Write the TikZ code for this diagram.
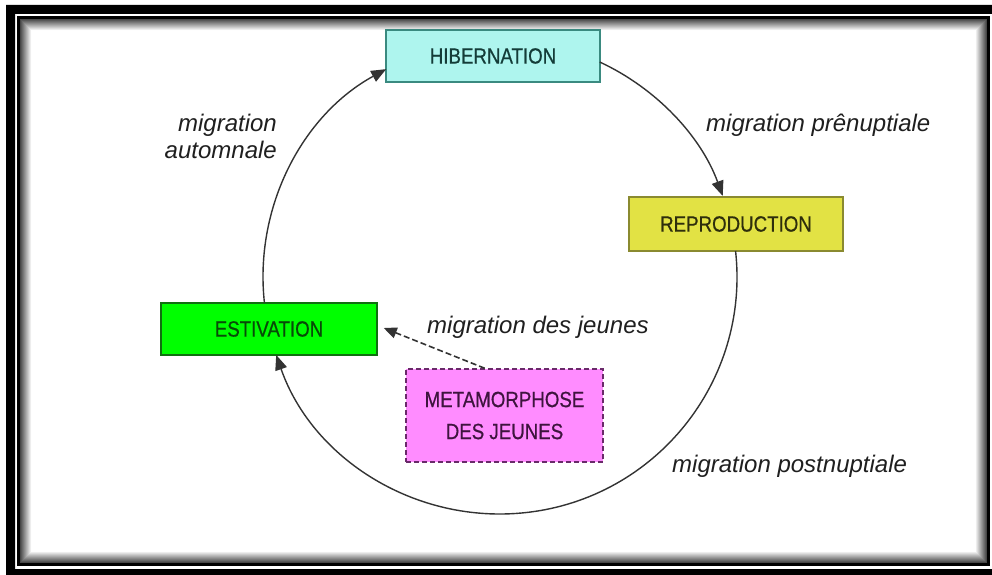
\documentclass[tikz,border=0pt]{standalone}
\usepackage{fontspec}
\setmainfont{Liberation Sans}
\newfontfamily\boxfont[FakeStretch=0.85,FakeBold=0.6]{Liberation Sans}
\usetikzlibrary{arrows.meta,calc}
\definecolor{hibfill}{HTML}{AEF5EE}
\definecolor{hibdraw}{HTML}{3A8A80}
\definecolor{hibtext}{HTML}{143C38}
\definecolor{repfill}{HTML}{E2E244}
\definecolor{repdraw}{HTML}{8A8A30}
\definecolor{reptext}{HTML}{2E2E0C}
\definecolor{estfill}{HTML}{00FF00}
\definecolor{estdraw}{HTML}{107010}
\definecolor{esttext}{HTML}{084A08}
\definecolor{metfill}{HTML}{FF8CFF}
\definecolor{metdraw}{HTML}{6A2A6A}
\definecolor{mettext}{HTML}{3E143E}
\tikzset{
  stagebox/.style={rectangle, line width=1.5pt, inner sep=0pt, align=center,
    font=\boxfont\fontsize{22}{32}\selectfont},
  lbl/.style={inner sep=0pt, font=\itshape\fontsize{24}{27}\selectfont, text=black!88},
  cyc/.style={line width=1.4pt, black!80, -{Triangle[length=15pt,width=12pt]}},
  dasharrow/.style={line width=1.6pt, black!80, dash pattern=on 6pt off 3pt,
    -{Triangle[length=13pt,width=11pt]}}
}
\begin{document}
\begin{tikzpicture}[x=1pt,y=1pt]
\useasboundingbox (0,0) rectangle (992,574);
\fill[white] (0,0) rectangle (992,574);
% outer thick frame
\fill[black, even odd rule] (6,569) rectangle (1010,-20) (15,560) rectangle (992,5);
% thin inner frame
\draw[black, line width=3pt] (18.5,556.5) rectangle (988.5,9.5);
% inner shadow
\foreach \i in {0,...,11}{
  \pgfmathsetmacro{\g}{max(0,72-6.5*\i)}
  \draw[black!\g, line width=1.05pt] (20.5+\i,554.5-\i) rectangle (986.5-\i,11.5+\i);
}
% nodes
\node[stagebox, fill=hibfill, draw=hibdraw, text=hibtext, minimum width=214pt, minimum height=52pt]
  (hib) at (493,518) {HIBERNATION};
\node[stagebox, fill=repfill, draw=repdraw, text=reptext, minimum width=214pt, minimum height=54pt]
  (rep) at (736,350) {REPRODUCTION};
\node[stagebox, fill=estfill, draw=estdraw, text=esttext, minimum width=216pt, minimum height=52pt]
  (est) at (269,245) {ESTIVATION};
\node[stagebox, fill=metfill, draw=metdraw, text=mettext, dash pattern=on 5pt off 3pt,
  minimum width=197pt, minimum height=93pt]
  (meta) at (504.5,158.5) {METAMORPHOSE\\DES JEUNES};
% cycle
\coordinate (O) at (500,297);
\coordinate (a1) at ($(O)+(65.1:237)$);
\coordinate (a2) at ($(O)+(6.3:237)$);
\coordinate (a3) at ($(O)+(186.3:237)$);
\draw[cyc] (a1) arc[start angle=65.1, end angle=20, radius=237pt];
\draw[cyc] (a2) arc[start angle=6.3, end angle=-160.8, radius=237pt];
\draw[cyc] (a3) arc[start angle=186.3, end angle=118.7, radius=237pt];
% dashed arrow
\coordinate (mstart) at ($(meta.north west)!0.4!(meta.north east)$);
\coordinate (etip) at ($(est.east)+(6,1)$);
\draw[dasharrow] (mstart) -- (etip);
% labels
\node[lbl, anchor=base east, align=right] (lautumn) at (277,415) {migration\\automnale};
\node[lbl, anchor=base west] (lpre) at (706,442) {migration prênuptiale};
\node[lbl, anchor=base west] (ljeunes) at (427,241) {migration des jeunes};
\node[lbl, anchor=base west] (lpost) at (672,102) {migration postnuptiale};
\end{tikzpicture}
\end{document}
